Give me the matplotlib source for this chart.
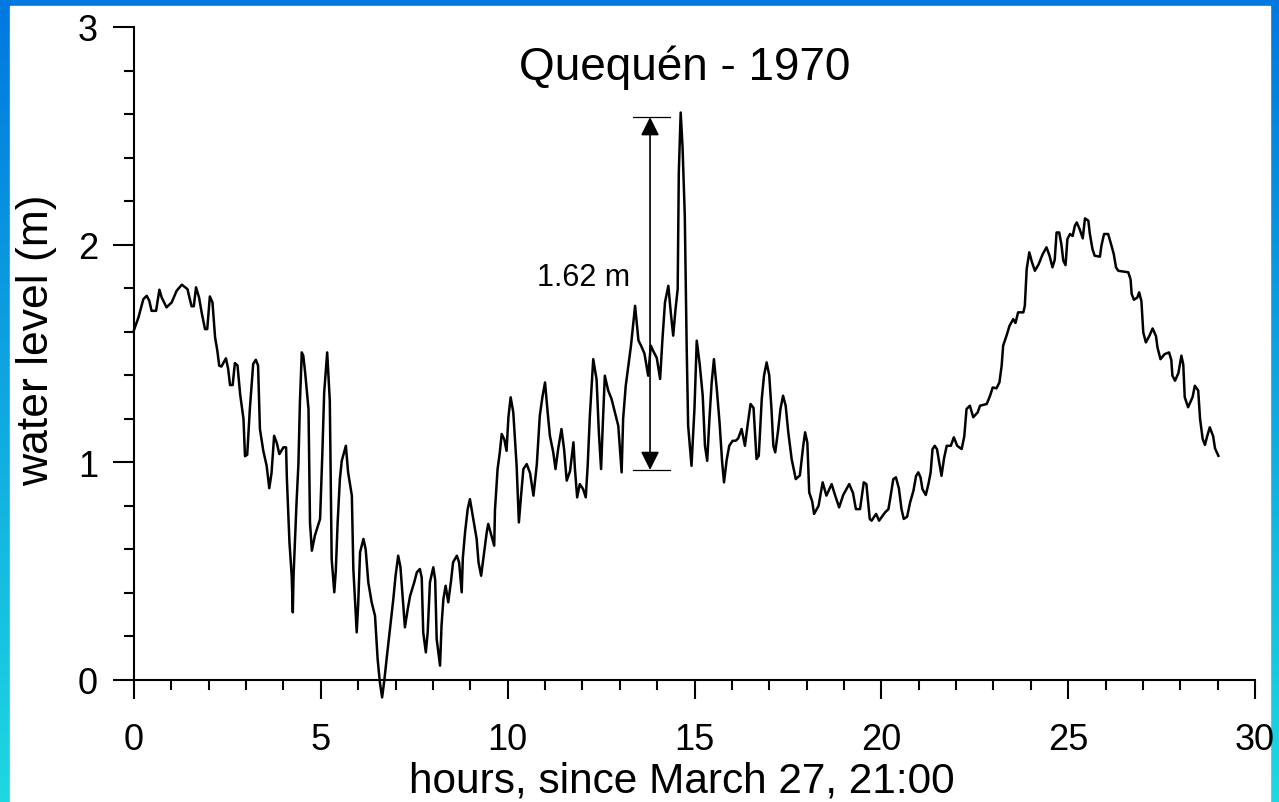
import numpy as np
import matplotlib
matplotlib.use("Agg")
import matplotlib.pyplot as plt
from matplotlib.ticker import MultipleLocator
from matplotlib.patches import Rectangle

plt.rcParams['font.family'] = ['Liberation Sans', 'DejaVu Sans']

# water level record (hours since March 27, 21:00 ; metres)
hours = [
    0.00, 0.12, 0.25, 0.34, 0.41, 0.47, 0.59, 0.68, 0.74, 0.87, 1.01, 1.14, 1.28, 1.43, 1.54, 1.60,
    1.66, 1.74, 1.81, 1.90, 1.96, 2.03, 2.10, 2.17, 2.23, 2.28, 2.34, 2.46, 2.52, 2.57, 2.64, 2.70,
    2.77, 2.84, 2.93, 2.97, 3.03, 3.10, 3.19, 3.26, 3.32, 3.37, 3.46, 3.55, 3.62, 3.68, 3.75, 3.82,
    3.89, 4.00, 4.07, 4.09, 4.16, 4.22, 4.25, 4.27, 4.35, 4.40, 4.44, 4.49, 4.53, 4.58, 4.67, 4.71,
    4.76, 4.84, 4.98, 5.04, 5.09, 5.17, 5.24, 5.29, 5.36, 5.40, 5.45, 5.51, 5.56, 5.67, 5.73, 5.83,
    5.87, 5.96, 6.00, 6.05, 6.14, 6.20, 6.27, 6.36, 6.45, 6.52, 6.58, 6.64, 6.70, 6.76, 6.85, 6.94,
    7.00, 7.07, 7.13, 7.18, 7.25, 7.33, 7.39, 7.50, 7.57, 7.65, 7.70, 7.74, 7.81, 7.86, 7.92, 8.01,
    8.06, 8.10, 8.19, 8.23, 8.28, 8.34, 8.41, 8.48, 8.54, 8.64, 8.70, 8.77, 8.80, 8.86, 8.93, 8.99,
    9.08, 9.17, 9.22, 9.29, 9.35, 9.44, 9.48, 9.57, 9.64, 9.66, 9.73, 9.79, 9.84, 9.91, 9.97, 10.02,
    10.08, 10.15, 10.24, 10.30, 10.35, 10.42, 10.51, 10.60, 10.69, 10.78, 10.86, 10.93, 11.00, 11.07,
    11.13, 11.22, 11.28, 11.35, 11.44, 11.51, 11.58, 11.67, 11.76, 11.80, 11.86, 11.93, 12.02, 12.09,
    12.14, 12.20, 12.29, 12.38, 12.44, 12.50, 12.54, 12.60, 12.69, 12.78, 12.87, 12.96, 13.05, 13.09,
    13.16, 13.23, 13.30, 13.41, 13.50, 13.57, 13.66, 13.76, 13.83, 13.90, 13.99, 14.08, 14.14, 14.21,
    14.30, 14.37, 14.43, 14.49, 14.55, 14.58, 14.63, 14.68, 14.74, 14.79, 14.83, 14.92, 15.00, 15.06,
    15.14, 15.22, 15.28, 15.34, 15.40, 15.46, 15.52, 15.60, 15.67, 15.74, 15.79, 15.86, 15.93, 16.02,
    16.10, 16.17, 16.26, 16.35, 16.42, 16.50, 16.58, 16.66, 16.72, 16.80, 16.86, 16.93, 17.00, 17.06,
    17.11, 17.16, 17.24, 17.30, 17.37, 17.44, 17.51, 17.60, 17.71, 17.82, 17.91, 17.96, 18.02, 18.07,
    18.15, 18.20, 18.32, 18.43, 18.53, 18.67, 18.76, 18.87, 18.98, 19.14, 19.24, 19.32, 19.43, 19.53,
    19.60, 19.69, 19.74, 19.86, 19.94, 20.10, 20.19, 20.25, 20.32, 20.39, 20.47, 20.54, 20.60, 20.69,
    20.77, 20.86, 20.93, 20.99, 21.05, 21.10, 21.19, 21.26, 21.32, 21.37, 21.43, 21.49, 21.55, 21.61,
    21.68, 21.75, 21.86, 21.94, 22.03, 22.15, 22.22, 22.28, 22.37, 22.46, 22.58, 22.64, 22.82, 22.91,
    22.98, 23.08, 23.16, 23.22, 23.26, 23.35, 23.43, 23.53, 23.59, 23.66, 23.80, 23.84, 23.89, 23.96,
    24.03, 24.11, 24.21, 24.32, 24.42, 24.50, 24.58, 24.64, 24.69, 24.76, 24.82, 24.87, 24.93, 24.98,
    25.05, 25.12, 25.18, 25.23, 25.31, 25.39, 25.45, 25.54, 25.58, 25.65, 25.71, 25.85, 25.89, 25.96,
    26.07, 26.16, 26.22, 26.28, 26.34, 26.61, 26.67, 26.70, 26.76, 26.85, 26.90, 26.96, 27.01, 27.08,
    27.17, 27.26, 27.35, 27.39, 27.47, 27.58, 27.70, 27.76, 27.79, 27.86, 27.95, 28.03, 28.08, 28.12,
    28.21, 28.33, 28.39, 28.48, 28.53, 28.60, 28.66, 28.72, 28.79, 28.88, 28.93, 29.02,
]
level = [
    1.608, 1.666, 1.750, 1.765, 1.742, 1.696, 1.696, 1.793, 1.758, 1.712, 1.735, 1.788, 1.816, 1.796, 1.717, 1.717,
    1.804, 1.758, 1.689, 1.612, 1.612, 1.762, 1.735, 1.574, 1.513, 1.444, 1.440, 1.478, 1.429, 1.355, 1.355, 1.456,
    1.445, 1.314, 1.199, 1.028, 1.035, 1.245, 1.452, 1.471, 1.445, 1.153, 1.053, 0.984, 0.881, 0.950, 1.122, 1.090,
    1.038, 1.069, 1.069, 0.931, 0.633, 0.479, 0.311, 0.480, 0.816, 0.992, 1.275, 1.505, 1.490, 1.413, 1.245, 0.724,
    0.594, 0.663, 0.740, 1.038, 1.322, 1.505, 1.283, 0.556, 0.403, 0.500, 0.724, 0.923, 1.007, 1.076, 0.954, 0.847,
    0.510, 0.219, 0.350, 0.587, 0.648, 0.600, 0.449, 0.357, 0.295, 0.096, -0.011, -0.080, 0.000, 0.096, 0.234, 0.372,
    0.479, 0.571, 0.520, 0.403, 0.242, 0.330, 0.387, 0.449, 0.495, 0.510, 0.470, 0.219, 0.127, 0.220, 0.449, 0.518,
    0.460, 0.188, 0.066, 0.250, 0.372, 0.433, 0.357, 0.449, 0.541, 0.571, 0.540, 0.403, 0.560, 0.679, 0.785, 0.831,
    0.740, 0.648, 0.540, 0.479, 0.560, 0.679, 0.717, 0.660, 0.617, 0.780, 0.969, 1.046, 1.130, 1.105, 1.053, 1.207,
    1.299, 1.230, 0.984, 0.724, 0.830, 0.969, 0.992, 0.950, 0.847, 0.990, 1.214, 1.300, 1.367, 1.230,
    1.122, 1.046, 0.969, 1.060, 1.153, 1.060, 0.916, 0.960, 1.092, 0.970, 0.839, 0.900, 0.877, 0.839,
    0.980, 1.214, 1.474, 1.380, 1.138, 0.969, 1.150, 1.398, 1.330, 1.291, 1.230, 1.168, 0.954, 1.200,
    1.352, 1.444, 1.536, 1.719, 1.560, 1.536, 1.500, 1.398, 1.536, 1.510, 1.480, 1.383, 1.560, 1.735,
    1.811, 1.680, 1.582, 1.700, 1.796, 2.332, 2.607, 2.450, 2.133, 1.536, 1.168, 0.984, 1.250, 1.559,
    1.450, 1.306, 1.076, 1.007, 1.200, 1.367, 1.474, 1.330, 1.184, 1.000, 0.908, 1.010, 1.076, 1.099,
    1.099, 1.110, 1.153, 1.076, 1.170, 1.268, 1.250, 1.015, 1.030, 1.291, 1.398, 1.459, 1.400, 1.245,
    1.076, 1.046, 1.150, 1.245, 1.306, 1.260, 1.138, 1.015, 0.923, 0.940, 1.076, 1.138, 1.090, 0.862,
    0.820, 0.763, 0.800, 0.908, 0.847, 0.900, 0.850, 0.793, 0.850, 0.900, 0.860, 0.785, 0.785, 0.908,
    0.900, 0.740, 0.732, 0.763, 0.732, 0.770, 0.785, 0.847, 0.923, 0.931, 0.880, 0.785, 0.740, 0.750,
    0.816, 0.870, 0.938, 0.954, 0.930, 0.877, 0.850, 0.900, 0.954, 1.061, 1.076, 1.060, 1.000, 0.938,
    1.020, 1.076, 1.076, 1.115, 1.076, 1.061, 1.120, 1.245, 1.260, 1.207, 1.230, 1.260, 1.268, 1.306,
    1.344, 1.340, 1.367, 1.444, 1.536, 1.582, 1.627, 1.658, 1.640, 1.689, 1.689, 1.719, 1.888, 1.965,
    1.920, 1.880, 1.910, 1.957, 1.988, 1.950, 1.896, 1.930, 2.056, 2.056, 2.000, 1.926, 1.906, 2.026,
    2.049, 2.040, 2.087, 2.102, 2.070, 2.029, 2.121, 2.110, 2.050, 1.980, 1.949, 1.945, 1.995, 2.049,
    2.049, 1.995, 1.957, 1.896, 1.880, 1.873, 1.840, 1.773, 1.747, 1.757, 1.781, 1.740, 1.597, 1.551,
    1.580, 1.615, 1.580, 1.528, 1.474, 1.497, 1.505, 1.470, 1.398, 1.375, 1.410, 1.490, 1.450, 1.299,
    1.253, 1.300, 1.352, 1.330, 1.199, 1.107, 1.080, 1.120, 1.161, 1.120, 1.064, 1.030,
]

# the marked range
range_time = 13.81
range_low = 0.965
range_high = 2.586
range_label = "1.62 m"

fig = plt.figure(figsize=(12.79, 8.03), dpi=100)

# blue frame behind a white page
bg = fig.add_axes([0, 0, 1, 1])
grad = np.linspace(0, 1, 256).reshape(-1, 1)
cmap = matplotlib.colors.LinearSegmentedColormap.from_list("frame", ["#0078e0", "#1ed8e0"])
bg.imshow(grad, aspect="auto", cmap=cmap, extent=[0, 1, 0, 1], origin="upper")
bg.add_patch(Rectangle((10 / 1279, 0), 1260 / 1279, 1 - 7 / 803, color="white"))
bg.set_xlim(0, 1)
bg.set_ylim(0, 1)
bg.axis("off")

ax = fig.add_axes([134 / 1279, 1 - 681 / 803, 1121 / 1279, 653 / 803])
ax.patch.set_alpha(0)
ax.plot(hours, level, color="black", lw=1.8, clip_on=False)

ax.set_xlim(0, 30)
ax.set_ylim(0, 3)
ax.xaxis.set_major_locator(MultipleLocator(5))
ax.xaxis.set_minor_locator(MultipleLocator(1))
ax.yaxis.set_major_locator(MultipleLocator(1))
ax.yaxis.set_minor_locator(MultipleLocator(0.2))
for s in ["top", "right"]:
    ax.spines[s].set_visible(False)
for s in ["left", "bottom"]:
    ax.spines[s].set_linewidth(1.5)
ax.tick_params(which="major", direction="out", width=1.5, labelsize=26)
ax.tick_params(axis="y", which="major", length=15, pad=11)
ax.tick_params(axis="x", which="major", length=14, pad=16)
ax.tick_params(which="minor", direction="out", width=1.5, length=7)

ax.set_xlabel("hours, since March 27, 21:00", fontsize=30.5)
ax.set_ylabel("water level (m)", fontsize=32)
ax.xaxis.set_label_coords(0.489, -0.124)
ax.yaxis.set_label_coords(-0.069, 0.522)

# double arrow showing the range
ax.annotate("", xy=(range_time, range_high), xytext=(range_time, range_low),
            arrowprops=dict(arrowstyle="<|-|>", color="black", lw=1.2,
                            mutation_scale=28, shrinkA=0, shrinkB=0))
ax.plot([13.35, 14.34], [range_high, range_high], color="black", lw=0.9)
ax.plot([13.35, 14.34], [range_low, range_low], color="black", lw=0.9)
ax.text(12.03, 1.85, range_label, fontsize=22, ha="center", va="center")

fig.text(685 / 1279, 1 - 68 / 803, "Quequén - 1970", fontsize=33, ha="center", va="center")

fig.savefig("out.png", dpi=100)
